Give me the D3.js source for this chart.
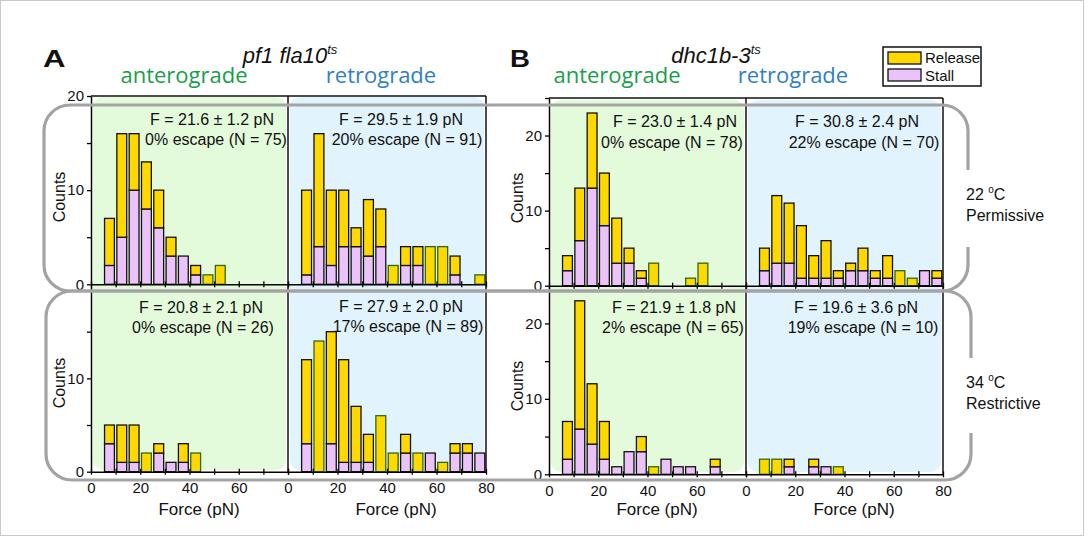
<!DOCTYPE html>
<html>
<head>
<meta charset="utf-8">
<script src="https://cdn.jsdelivr.net/npm/d3@7"></script>
<style>
  body { margin: 0; background: #fff; }
  svg { display: block; }
  text { font-family: "Liberation Sans", Arial, sans-serif; fill: #111; }
  text.dir { font-family: "Open Sans", sans-serif; }
</style>
</head>
<body>
<svg id="chart"></svg>
<script>
// 5 pN bins, 0-80 pN
const binStarts = d3.range(0, 80, 5);

// A: pf1 fla10ts  (total counts per bin, and the stall part of it)
const aPermAnteroTotal = [0, 7, 16, 16, 13, 10, 5, 3, 2, 1, 2, 0, 0, 0, 0, 0];
const aPermAnteroStall = [0, 2, 5, 10, 8, 6, 3, 3, 1, 0, 0, 0, 0, 0, 0, 0];
const aPermRetroTotal  = [0, 10, 16, 10, 10, 6, 9, 8, 2, 4, 4, 4, 4, 3, 0, 1];
const aPermRetroStall  = [0, 1, 4, 2, 4, 4, 3, 4, 0, 2, 2, 0, 0, 1, 0, 0];
const aRestAnteroTotal = [0, 5, 5, 5, 2, 3, 1, 3, 2, 0, 0, 0, 0, 0, 0, 0];
const aRestAnteroStall = [0, 3, 1, 1, 0, 2, 1, 1, 0, 0, 0, 0, 0, 0, 0, 0];
const aRestRetroTotal  = [0, 12, 14, 15, 12, 7, 4, 6, 2, 4, 2, 2, 1, 3, 3, 2];
const aRestRetroStall  = [0, 3, 0, 3, 1, 1, 1, 0, 0, 2, 0, 2, 0, 2, 2, 2];

// B: dhc1b-3ts
const bPermAnteroTotal = [0, 4, 13, 23, 15, 9, 5, 2, 3, 0, 0, 1, 3, 0, 0, 0];
const bPermAnteroStall = [0, 2, 6, 13, 8, 3, 3, 1, 0, 0, 0, 0, 0, 0, 0, 0];
const bPermRetroTotal  = [0, 5, 12, 11, 8, 4, 6, 2, 3, 5, 2, 4, 2, 1, 2, 2];
const bPermRetroStall  = [0, 2, 3, 3, 1, 1, 1, 1, 2, 2, 1, 1, 0, 0, 2, 1];
const bRestAnteroTotal = [0, 7, 23, 12, 7, 1, 3, 5, 1, 2, 1, 1, 0, 2, 0, 0];
const bRestAnteroStall = [0, 2, 6, 4, 2, 1, 3, 3, 0, 2, 1, 1, 0, 1, 0, 0];
const bRestRetroTotal  = [0, 2, 2, 2, 0, 2, 1, 1, 0, 0, 0, 0, 0, 0, 0, 0];
const bRestRetroStall  = [0, 0, 0, 1, 0, 1, 1, 0, 0, 0, 0, 0, 0, 0, 0, 0];

// annotation text
const aPermAnteroNote = ["F = 21.6 \u00b1 1.2 pN", "0% escape (N = 75)"];
const aPermRetroNote  = ["F = 29.5 \u00b1 1.9 pN", "20% escape (N = 91)"];
const aRestAnteroNote = ["F = 20.8 \u00b1 2.1 pN", "0% escape (N = 26)"];
const aRestRetroNote  = ["F = 27.9 \u00b1 2.0 pN", "17% escape (N = 89)"];
const bPermAnteroNote = ["F = 23.0 \u00b1 1.4 pN", "0% escape (N = 78)"];
const bPermRetroNote  = ["F = 30.8 \u00b1 2.4 pN", "22% escape (N = 70)"];
const bRestAnteroNote = ["F = 21.9 \u00b1 1.8 pN", "2% escape (N = 65)"];
const bRestRetroNote  = ["F = 19.6 \u00b1 3.6 pN", "19% escape (N = 10)"];

const xTickValues = d3.range(0, 81, 10);
const xLabelValues = [0, 20, 40, 60, 80];
const yLabelValues = [0, 10, 20];
const legendLabels = ["Release", "Stall"];

const width = 1091, height = 548;
const colRelease = "#ffd800", colStall = "#ebc3fa";
const colAntero = "#17a04a", colRetro = "#2f7fc8";
const bgAntero = "#e3fbda", bgRetro = "#e1f3fd";

const svg = d3.select("#chart").attr("width", width).attr("height", height);

// outer frame
svg.append("rect")
    .attr("x", 0.5).attr("y", 0.5)
    .attr("width", 1083).attr("height", 535)
    .attr("fill", "none").attr("stroke", "#c9c9c9").attr("stroke-width", 1);

// panel groups: column x ranges, row y ranges (count domain)
const groups = [
    {
        cols: [[91, 288], [288, 486]],
        rows: [{ max: 20, range: [284.3, 96] }, { max: 20, range: [471.7, 285] }],
        bg: [97, 470],
        data: [
            [[aPermAnteroTotal, aPermAnteroStall, aPermAnteroNote], [aPermRetroTotal, aPermRetroStall, aPermRetroNote]],
            [[aRestAnteroTotal, aRestAnteroStall, aRestAnteroNote], [aRestRetroTotal, aRestRetroStall, aRestRetroNote]]
        ],
        notePos: [
            [[[212, 125], [216, 145]], [[401, 125], [407, 145]]],
            [[[201, 313], [203, 333]], [[401, 312], [408, 332]]]
        ],
        countsPos: [[65, 197], [65, 383]],
        forceX: [199, 396]
    },
    {
        cols: [[549, 746], [746, 943]],
        rows: [{ max: 25, range: [285.7, 98] }, { max: 25, range: [474.3, 285.7] }],
        bg: [100, 472],
        data: [
            [[bPermAnteroTotal, bPermAnteroStall, bPermAnteroNote], [bPermRetroTotal, bPermRetroStall, bPermRetroNote]],
            [[bRestAnteroTotal, bRestAnteroStall, bRestAnteroNote], [bRestRetroTotal, bRestRetroStall, bRestRetroNote]]
        ],
        notePos: [
            [[[675, 127], [672, 148]], [[857, 127], [864, 148]]],
            [[[674, 313], [673, 333]], [[856, 313], [863, 333]]]
        ],
        countsPos: [[523, 198], [523, 386]],
        forceX: [657, 854]
    }
];

groups.forEach(g => {
    const gg = svg.append("g");

    // column backgrounds
    g.cols.forEach((c, ci) => {
        gg.append("rect")
            .attr("x", c[0] + 2).attr("y", g.bg[0])
            .attr("width", c[1] - c[0] - 4).attr("height", g.bg[1] - g.bg[0])
            .attr("rx", 10)
            .attr("fill", ci === 0 ? bgAntero : bgRetro);
    });

    g.rows.forEach((row, ri) => {
        const y = d3.scaleLinear().domain([0, row.max]).range(row.range);

        g.cols.forEach((c, ci) => {
            const x = d3.scaleLinear().domain([0, 80]).range(c);
            const [total, stall, note] = g.data[ri][ci];
            const bw = (x(5) - x(0)) * 0.8;
            const bins = binStarts.map((b, i) => ({ b, total: total[i], stall: stall[i] }))
                .filter(d => d.total > 0);

            const bars = gg.append("g");
            bars.selectAll("rect.stall")
                .data(bins.filter(d => d.stall > 0))
                .join("rect")
                .attr("x", d => x(d.b + 2.5) - bw / 2)
                .attr("width", bw)
                .attr("y", d => y(d.stall))
                .attr("height", d => y(0) - y(d.stall))
                .attr("fill", colStall)
                .attr("stroke", "#111").attr("stroke-width", 1.3);
            bars.selectAll("rect.release")
                .data(bins.filter(d => d.total > d.stall))
                .join("rect")
                .attr("x", d => x(d.b + 2.5) - bw / 2)
                .attr("width", bw)
                .attr("y", d => y(d.total))
                .attr("height", d => y(d.stall) - y(d.total))
                .attr("fill", colRelease)
                .attr("stroke", d => d.stall === 0 ? "#2e6a12" : "#111")
                .attr("stroke-width", 1.3);

            // annotation
            note.forEach((t, k) => {
                gg.append("text")
                    .attr("x", g.notePos[ri][ci][k][0])
                    .attr("y", g.notePos[ri][ci][k][1])
                    .attr("text-anchor", "middle")
                    .attr("font-size", 16)
                    .text(t);
            });

            // x axis
            const xAxis = d3.axisBottom(x)
                .tickValues(xTickValues)
                .tickSizeInner(3).tickSizeOuter(0).tickPadding(8)
                .tickFormat(d => {
                    if (ri === 0) return "";
                    if (!xLabelValues.includes(d)) return "";
                    if (ci === 0 && d === 80) return "";
                    return d;
                });
            const ax = gg.append("g")
                .attr("transform", `translate(0,${y(0)})`)
                .call(xAxis);
            ax.selectAll(".tick line").attr("y1", -3).attr("y2", 3).attr("stroke-width", 1.3);
            ax.select(".domain").attr("stroke-width", 1.5);
            ax.selectAll("text").attr("font-size", 15);

            if (ri === 1) {
                gg.append("text")
                    .attr("x", g.forceX[ci])
                    .attr("y", 515)
                    .attr("text-anchor", "middle")
                    .attr("font-size", 17)
                    .text("Force (pN)");
            }
        });

        // y axis (bottom row drops the top tick, it sits on the upper axis)
        const yTicks = d3.range(0, row.max + 1, 5).filter(v => ri === 0 || v < row.max);
        const yAxis = d3.axisLeft(y)
            .tickValues(yTicks)
            .tickSizeInner(4).tickSizeOuter(0).tickPadding(3)
            .tickFormat(d => yLabelValues.includes(d) ? d : "");
        const ay = gg.append("g")
            .attr("transform", `translate(${g.cols[0][0]},0)`)
            .call(yAxis);
        ay.select(".domain").attr("stroke-width", 1.5);
        ay.selectAll(".tick line").attr("stroke-width", 1.3);
        ay.selectAll("text").attr("font-size", 15);

        gg.append("text")
            .attr("transform", `translate(${g.countsPos[ri][0]},${g.countsPos[ri][1]}) rotate(-90)`)
            .attr("text-anchor", "middle")
            .attr("font-size", 16)
            .text("Counts");
    });

    // frame lines: top, divider, right edge
    const top = g.rows[0].range[1], bottom = g.rows[1].range[0];
    gg.append("line")
        .attr("x1", g.cols[0][0]).attr("x2", g.cols[1][1])
        .attr("y1", top).attr("y2", top)
        .attr("stroke", "#111").attr("stroke-width", 1.5);
    [g.cols[1][0], g.cols[1][1]].forEach(xv => {
        gg.append("line")
            .attr("x1", xv).attr("x2", xv)
            .attr("y1", top).attr("y2", bottom)
            .attr("stroke", "#111").attr("stroke-width", 1.5);
    });
});

// headings
function panelLetter(t, x, sx) {
    svg.append("text")
        .attr("transform", `translate(${x},67) scale(${sx},1)`)
        .attr("font-size", 24).attr("font-weight", "bold")
        .text(t);
}
panelLetter("A", 43, 1.3);
panelLetter("B", 510, 1.15);

function title(main, x) {
    const t = svg.append("text")
        .attr("x", x).attr("y", 63)
        .attr("text-anchor", "middle")
        .attr("font-size", 22).attr("font-style", "italic");
    t.append("tspan").text(main);
    t.append("tspan").attr("font-size", 13).attr("dy", -9).text("ts");
}
title("pf1 fla10", 290);
title("dhc1b-3", 716);

[[184, "anterograde", colAntero], [381, "retrograde", colRetro],
 [617, "anterograde", colAntero], [793, "retrograde", colRetro]].forEach(([x, t, c]) => {
    svg.append("text")
        .attr("class", "dir")
        .attr("x", x).attr("y", 83)
        .attr("text-anchor", "middle")
        .attr("font-size", 22)
        .style("fill", c)
        .text(t);
});

// legend
const legend = svg.append("g");
legend.append("rect")
    .attr("x", 883).attr("y", 47).attr("width", 98).attr("height", 39)
    .attr("fill", "#fff").attr("stroke", "#111").attr("stroke-width", 1.5);
legendLabels.forEach((l, i) => {
    legend.append("rect")
        .attr("x", 888).attr("y", 52 + i * 17).attr("width", 33).attr("height", 12)
        .attr("fill", i === 0 ? colRelease : colStall)
        .attr("stroke", "#111").attr("stroke-width", 1.3);
    legend.append("text")
        .attr("x", 925).attr("y", 63 + i * 18)
        .attr("font-size", 15)
        .text(l);
});

// temperature brackets
function bracket(x0, y0, x1, y1, gapTop, gapBot, r) {
    const p = d3.path();
    p.moveTo(x1, gapTop);
    p.lineTo(x1, y0 + r);
    p.arcTo(x1, y0, x1 - r, y0, r);
    p.lineTo(x0 + r, y0);
    p.arcTo(x0, y0, x0, y0 + r, r);
    p.lineTo(x0, y1 - r);
    p.arcTo(x0, y1, x0 + r, y1, r);
    p.lineTo(x1 - r, y1);
    p.arcTo(x1, y1, x1, y1 - r, r);
    p.lineTo(x1, gapBot);
    return p.toString();
}
svg.append("path")
    .attr("d", bracket(44, 105, 968, 291, 170, 247, 26))
    .attr("fill", "none").attr("stroke", "#a3a3a3").attr("stroke-width", 3.2);
svg.append("path")
    .attr("d", bracket(46, 291, 971, 480, 358, 433, 26))
    .attr("fill", "none").attr("stroke", "#a3a3a3").attr("stroke-width", 3.2);

function tempLabel(deg, word, yBase) {
    const t = svg.append("text").attr("x", 966).attr("y", yBase).attr("font-size", 16);
    t.append("tspan").text(deg + " ");
    t.append("tspan").attr("font-size", 10).attr("dy", -7).text("o");
    t.append("tspan").attr("dy", 7).text("C");
    svg.append("text").attr("x", 966).attr("y", yBase + 21).attr("font-size", 16).text(word);
}
tempLabel("22", "Permissive", 200);
tempLabel("34", "Restrictive", 388);
</script>
</body>
</html>
